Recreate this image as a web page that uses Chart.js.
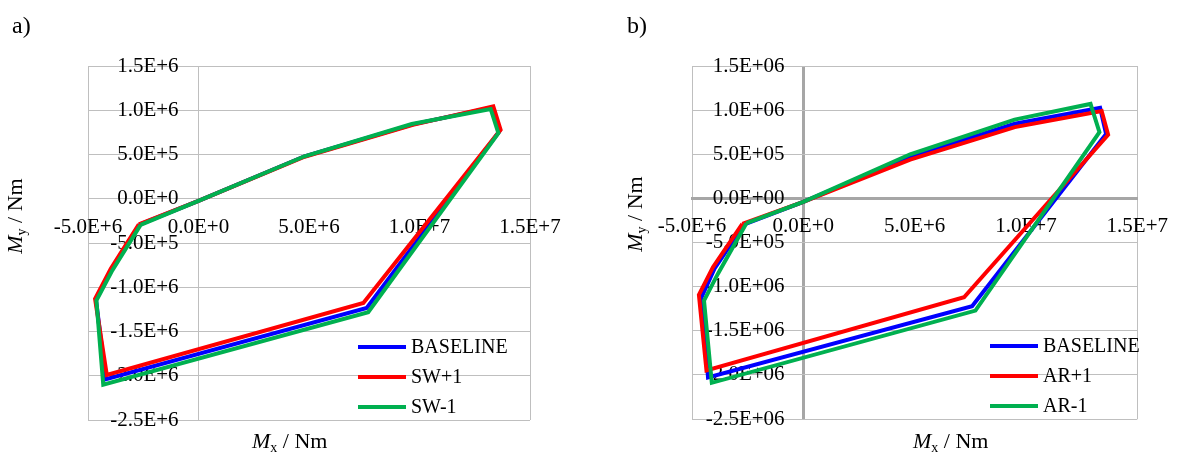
<!DOCTYPE html>
<html>
<head>
<meta charset="utf-8">
<script src="https://cdn.jsdelivr.net/npm/chart.js@4.4.0/dist/chart.umd.min.js"></script>
<style>
  body { margin: 0; background: #fff; }
  #wrap { position: relative; width: 1184px; height: 455px; font-family: 'Liberation Serif', 'Times New Roman', serif; color: #000; }
  .panel { position: absolute; top: 0; height: 455px; }
  .tag { position: absolute; top: 12px; font-size: 24px; }
  .xt { position: absolute; top: 428px; font-size: 22px; white-space: nowrap; }
  .yt { position: absolute; font-size: 22px; white-space: nowrap; transform: rotate(-90deg); transform-origin: center; }
  .xt sub, .yt sub { font-size: 14px; vertical-align: -4px; }
  .legend { position: absolute; font-size: 20px; }
  .legend div { height: 30px; line-height: 30px; white-space: nowrap; }
  .legend span.ln { display: inline-block; width: 48px; height: 4px; vertical-align: middle; margin-right: 5px; position: relative; top: -1px; }
</style>
</head>
<body>
<div id="wrap">
  <div class="panel" style="left:0;width:600px"><canvas id="chartA" width="600" height="455"></canvas></div>
  <div class="panel" style="left:600px;width:584px"><canvas id="chartB" width="584" height="455"></canvas></div>
  <div class="tag" style="left:12px">a)</div>
  <div class="tag" style="left:627px">b)</div>
  <div class="xt" style="left:252px"><i>M</i><sub>x</sub> / Nm</div>
  <div class="xt" style="left:913px"><i>M</i><sub>x</sub> / Nm</div>
  <div class="yt" style="left:-22px;top:202px"><i>M</i><sub>y</sub> / Nm</div>
  <div class="yt" style="left:598px;top:200px"><i>M</i><sub>y</sub> / Nm</div>
  <div class="legend" id="legA" style="left:358px;top:331px"></div>
  <div class="legend" id="legB" style="left:990px;top:330px"></div>
</div>
<script>
// axis ticks
var xTicks = [-5e6, 0, 5e6, 1e7, 1.5e7];
var xTickLabels = ['-5.0E+6', '0.0E+0', '5.0E+6', '1.0E+7', '1.5E+7'];
var yTicks = [-2.5e6, -2e6, -1.5e6, -1e6, -5e5, 0, 5e5, 1e6, 1.5e6];
var yTickLabelsA = ['-2.5E+6', '-2.0E+6', '-1.5E+6', '-1.0E+6', '-5.0E+5', '0.0E+0', '5.0E+5', '1.0E+6', '1.5E+6'];
var yTickLabelsB = ['-2.5E+06', '-2.0E+06', '-1.5E+06', '-1.0E+06', '-5.0E+05', '0.0E+00', '5.0E+05', '1.0E+06', '1.5E+06'];

// a) SW variation
var namesA = ['BASELINE', 'SW+1', 'SW-1'];
var mxBaseA = [-2.65e6, 0, 4.8e6, 9.7e6, 13.27e6, 13.61e6, 7.61e6, -4.19e6, -4.64e6, -3.93e6, -2.65e6];
var myBaseA = [-2.9e5, -2.5e4, 4.8e5, 8.4e5, 1.03e6, 7.6e5, -1.234e6, -2.04e6, -1.14e6, -8.0e5, -2.9e5];
var mxSwPlus = [-2.7e6, 0, 4.8e6, 9.7e6, 13.34e6, 13.67e6, 7.46e6, -4.15e6, -4.68e6, -3.97e6, -2.7e6];
var mySwPlus = [-2.9e5, -2.5e4, 4.75e5, 8.35e5, 1.045e6, 7.8e5, -1.177e6, -1.99e6, -1.13e6, -7.9e5, -2.9e5];
var mxSwMinus = [-2.62e6, 0, 4.8e6, 9.65e6, 13.22e6, 13.57e6, 7.68e6, -4.31e6, -4.62e6, -3.9e6, -2.62e6];
var mySwMinus = [-2.95e5, -2.5e4, 4.8e5, 8.45e5, 1.015e6, 7.4e5, -1.283e6, -2.1e6, -1.15e6, -8.1e5, -2.95e5];

// b) AR variation
var namesB = ['BASELINE', 'AR+1', 'AR-1'];
var mxBaseB = [-2.65e6, 0, 4.8e6, 9.5e6, 13.33e6, 13.6e6, 7.58e6, -4.28e6, -4.57e6, -3.99e6, -2.65e6];
var myBaseB = [-2.95e5, -4e4, 4.7e5, 8.45e5, 1.026e6, 7.3e5, -1.222e6, -2.03e6, -1.12e6, -7.97e5, -2.95e5];
var mxArPlus = [-2.74e6, 0, 4.8e6, 9.5e6, 13.4e6, 13.69e6, 7.22e6, -4.35e6, -4.69e6, -4.06e6, -2.74e6];
var myArPlus = [-2.89e5, -4e4, 4.4e5, 8.07e5, 9.89e5, 7.2e5, -1.12e6, -1.95e6, -1.094e6, -7.8e5, -2.89e5];
var mxArMinus = [-2.55e6, 0, 4.8e6, 9.49e6, 12.9e6, 13.3e6, 7.73e6, -4.11e6, -4.46e6, -3.84e6, -2.55e6];
var myArMinus = [-2.8e5, -4e4, 5.0e5, 8.93e5, 1.07e6, 7.5e5, -1.272e6, -2.09e6, -1.159e6, -8.56e5, -2.8e5];

var colors = ['#0000ff', '#ff0000', '#00b050'];
var gridColor = '#bfbfbf';
var tickFont = { family: "'Liberation Serif', 'Times New Roman', serif", size: 21 };

function zip(xs, ys) {
  return xs.map(function (x, i) { return { x: x, y: ys[i] }; });
}

// axisStyle: colour/width of the lines through zero, labelShift: where the y labels hang (x value)
function makeChart(id, names, series, yLabels, pad, axisStyle, labelShift) {
  var datasets = series.map(function (s, i) {
    return {
      label: names[i],
      data: zip(s[0], s[1]),
      showLine: true,
      borderColor: colors[i],
      backgroundColor: colors[i],
      borderWidth: 4,
      pointRadius: 0,
      tension: 0,
      order: 3 - i
    };
  });

  return new Chart(document.getElementById(id), {
    type: 'scatter',
    data: { datasets: datasets },
    options: {
      responsive: false,
      animation: false,
      layout: { padding: pad },
      plugins: { legend: { display: false }, tooltip: { enabled: false } },
      scales: {
        x: {
          type: 'linear',
          min: -5e6,
          max: 1.5e7,
          position: { y: 0 },
          afterBuildTicks: function (scale) {
            scale.ticks = xTicks.map(function (v) { return { value: v }; });
          },
          ticks: {
            autoSkip: false,
            maxRotation: 0,
            padding: 16,
            color: '#000',
            font: tickFont,
            callback: function (v, i) { return xTickLabels[i]; }
          },
          grid: {
            drawTicks: false,
            // only the frame edges and the vertical line through zero
            color: function (ctx) {
              if (ctx.index === 1) return axisStyle.color;
              return (ctx.index === 0 || ctx.index === xTicks.length - 1) ? gridColor : 'rgba(0,0,0,0)';
            },
            lineWidth: function (ctx) { return ctx.index === 1 ? axisStyle.width : 1; }
          },
          border: { color: axisStyle.color, width: axisStyle.width }
        },
        y: {
          type: 'linear',
          min: -2.5e6,
          max: 1.5e6,
          position: { x: labelShift },
          afterBuildTicks: function (scale) {
            scale.ticks = yTicks.map(function (v) { return { value: v }; });
          },
          ticks: {
            autoSkip: false,
            padding: 0,
            color: '#000',
            font: tickFont,
            callback: function (v, i) { return yLabels[i]; }
          },
          grid: { drawTicks: false, color: gridColor },
          border: { display: false }
        }
      }
    }
  });
}

function makeLegend(id, names) {
  var box = document.getElementById(id);
  names.forEach(function (n, i) {
    var row = document.createElement('div');
    row.innerHTML = '<span class="ln" style="background:' + colors[i] + '"></span>' + n;
    box.appendChild(row);
  });
}

makeChart('chartA', namesA,
  [[mxBaseA, myBaseA], [mxSwPlus, mySwPlus], [mxSwMinus, mySwMinus]],
  yTickLabelsA, { left: 88, right: 70, top: 66, bottom: 35 },
  { color: gridColor, width: 1 }, -9.0e5);

makeChart('chartB', namesB,
  [[mxBaseB, myBaseB], [mxArPlus, myArPlus], [mxArMinus, myArMinus]],
  yTickLabelsB, { left: 92, right: 37, top: 66, bottom: 36 },
  { color: '#a6a6a6', width: 3 }, -8.4e5);

makeLegend('legA', namesA);
makeLegend('legB', namesB);
</script>
</body>
</html>
